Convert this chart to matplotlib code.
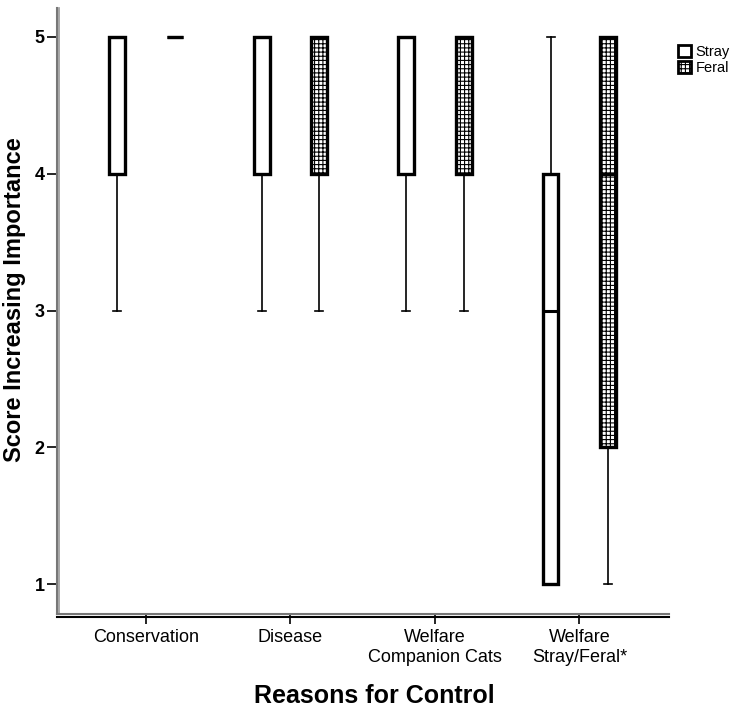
import matplotlib
matplotlib.use("Agg")
import matplotlib.pyplot as plt
from matplotlib.lines import Line2D
from matplotlib.patches import Patch

plt.rcParams['font.family'] = ['Liberation Sans', 'DejaVu Sans']
plt.rcParams['hatch.linewidth'] = 0.8

categories = ["Conservation", "Disease", "Welfare\nCompanion Cats", "Welfare\nStray/Feral*"]
# five-number summaries: whislo, q1, med, q3, whishi
stray_whislo = [3, 3, 3, 1]
stray_q1 = [4, 4, 4, 1]
stray_med = [5, 5, 5, 3]
stray_q3 = [5, 5, 5, 4]
stray_hi = [5, 5, 5, 5]

feral_whislo = [5, 3, 3, 1]
feral_q1 = [5, 4, 4, 2]
feral_med = [5, 5, 5, 4]
feral_q3 = [5, 5, 5, 5]
feral_whishi = [5, 5, 5, 5]

fig = plt.figure(figsize=(7.38, 7.08), dpi=100)
ax = fig.add_axes([57/738, 94/708, 612/738, 606/708])

def stats(lo, q1, med, q3, hi):
    return [dict(whislo=a, q1=b, med=c, q3=d, whishi=e, fliers=[]) for a, b, c, d, e in zip(lo, q1, med, q3, hi)]

pos = list(range(len(categories)))
off = 0.2
w = 0.11

s_stats = stats(stray_whislo, stray_q1, stray_med, stray_q3, stray_hi)
f_stats = stats(feral_whislo, feral_q1, feral_med, feral_q3, feral_whishi)

common = dict(widths=w, patch_artist=True, showfliers=False,
              whiskerprops=dict(color='black', linewidth=1.2),
              capprops=dict(color='black', linewidth=1.2),
              medianprops=dict(color='black', linewidth=2.2, solid_capstyle='butt'),
              capwidths=w*0.5, manage_ticks=False)

b1 = ax.bxp(s_stats, positions=[p - off for p in pos],
            boxprops=dict(facecolor='white', edgecolor='black', linewidth=2.4), **common)
b2 = ax.bxp(f_stats, positions=[p + off for p in pos],
            boxprops=dict(facecolor='white', edgecolor='black', linewidth=2.4, hatch='++++'), **common)

ax.set_xlim(-0.616, 3.62)
ax.set_ylim(0.781, 5.212)
ax.set_xticks(pos)
ax.set_xticklabels(categories, fontsize=13)
ax.set_yticks([1, 2, 3, 4, 5])
ax.set_yticklabels(['1', '2', '3', '4', '5'], fontsize=13, fontweight='bold')
ax.tick_params(axis='both', length=7, width=1.2, color='black')
ax.tick_params(axis='x', pad=4)
ax.tick_params(axis='y', pad=2)

for s in ['top', 'right']:
    ax.spines[s].set_visible(False)
ax.spines['left'].set_color('#777777')
ax.spines['left'].set_linewidth(1.5)
ax.spines['bottom'].set_color('#777777')
ax.spines['bottom'].set_linewidth(1.5)

# double-line effect
axw, axh = 612, 606
ax.add_line(Line2D([2.0/axw, 2.0/axw], [0, 1], transform=ax.transAxes, color='#999999', lw=1.2, clip_on=False))
ax.add_line(Line2D([0, 1], [-2.5/axh, -2.5/axh], transform=ax.transAxes, color='black', lw=1.5, clip_on=False))

ax.set_ylabel("Score Increasing Importance", fontsize=17, fontweight='bold')
ax.set_xlabel("Reasons for Control", fontsize=18, fontweight='bold')
ax.yaxis.set_label_coords(-0.05, 0.518)
ax.xaxis.set_label_coords(0.518, -0.115)

handles = [Patch(facecolor='white', edgecolor='black', linewidth=2, label='Stray'),
           Patch(facecolor='white', edgecolor='black', linewidth=2, hatch='++++', label='Feral')]
fig.legend(handles=handles, loc='upper left', bbox_to_anchor=(678/738, 1 - 45/708), frameon=False,
           fontsize=10.5, handlelength=0.9, handleheight=0.9, handletextpad=0.3, labelspacing=0.1, borderpad=0,
           borderaxespad=0)

fig.savefig("out.png", dpi=100)
